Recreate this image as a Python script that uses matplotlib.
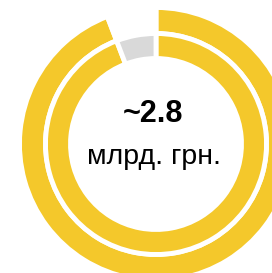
import matplotlib
matplotlib.use("Agg")
import matplotlib.pyplot as plt

# ==============
# Data
# ==============
outer_labels = ["сплачено", "пусто"]
outer_values = [94.2, 5.8]
inner_labels = ["сплачено", "решта"]
inner_values = [94.2, 5.8]

total_label = "~2.8"
unit_label = "млрд. грн."

YELLOW = "#F4C82B"
GRAY = "#D9D9D9"

# ==============
# Figure
# ==============
W, H = 272, 273
fig = plt.figure(figsize=(W / 100, H / 100), dpi=100)
ax = fig.add_axes([0, 0, 1, 1])

cx, cy = 156, H - 144
edge = dict(edgecolor="white", linewidth=3.5)

ax.pie(
    outer_values,
    colors=[YELLOW, "none"],
    startangle=90,
    counterclock=False,
    radius=136.5,
    center=(cx, cy),
    wedgeprops=dict(width=26, **edge),
)
ax.pie(
    inner_values,
    colors=[YELLOW, GRAY],
    startangle=90,
    counterclock=False,
    radius=110.5,
    center=(cx, cy),
    wedgeprops=dict(width=25, **edge),
)

ax.text(153.5, H - 122, total_label, ha="center", va="baseline",
        fontsize=22, fontweight="bold", family=["Liberation Sans", "DejaVu Sans"])
ax.text(154, H - 164, unit_label, ha="center", va="baseline",
        fontsize=20.5, family=["Liberation Sans", "DejaVu Sans"])

ax.set_xlim(0, W)
ax.set_ylim(0, H)
ax.set_aspect("auto")
ax.axis("off")

fig.savefig("out.png", dpi=100)
